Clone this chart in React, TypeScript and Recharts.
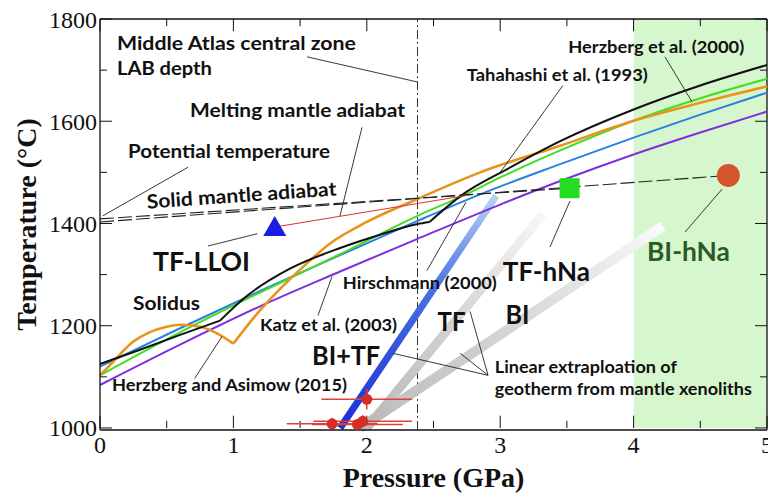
import React from 'react';
import {
  ComposedChart,
  Line,
  Area,
  XAxis,
  YAxis,
  ReferenceLine,
  ReferenceDot,
  Scatter,
  ErrorBar,
} from 'recharts';

// ---------- axes ----------
const xMajorTicks = [0, 1, 2, 3, 4, 5];
const xMinorTicks = [0.5, 1.5, 2.5, 3.5, 4.5];
const yMajorTicks = [1000, 1200, 1400, 1600, 1800];
const yMinorTicks = [1100, 1300, 1500, 1700];

// ---------- solidus curves (P GPa, T °C) ----------
const takahashi1993A = [
  { p: 0, t: 1125 }, { p: 0.3, t: 1153 }, { p: 0.6, t: 1182 }, { p: 0.9, t: 1210 },
];
const takahashi1993B = [
  { p: 0.9, t: 1210 }, { p: 1.1, t: 1258 }, { p: 1.42, t: 1311 }, { p: 1.8, t: 1352 },
  { p: 2.1, t: 1378 }, { p: 2.38, t: 1399 }, { p: 2.47, t: 1403 },
];
const takahashi1993C = [
  { p: 2.47, t: 1403 }, { p: 2.72, t: 1457 }, { p: 3.05, t: 1506 }, { p: 3.45, t: 1561 },
  { p: 4.0, t: 1623 }, { p: 4.5, t: 1670 }, { p: 5, t: 1710 },
];
const herzbergAsimow2015A = [
  { p: 0, t: 1103 }, { p: 0.075, t: 1123 }, { p: 0.25, t: 1169 }, { p: 0.37, t: 1187 },
  { p: 0.5, t: 1198 }, { p: 0.6, t: 1202 }, { p: 0.75, t: 1198 }, { p: 0.87, t: 1186 },
  { p: 1.0, t: 1165 },
];
const herzbergAsimow2015B = [
  { p: 1.0, t: 1165 }, { p: 1.15, t: 1215 }, { p: 1.35, t: 1272 }, { p: 1.55, t: 1322 },
  { p: 1.72, t: 1360 }, { p: 2.0, t: 1403 }, { p: 2.38, t: 1448 }, { p: 2.85, t: 1500 },
  { p: 3.45, t: 1552 }, { p: 4.0, t: 1601 }, { p: 4.5, t: 1636 }, { p: 5, t: 1668 },
];
const herzberg2000 = [
  { p: 0, t: 1103 }, { p: 0.6, t: 1187 }, { p: 1.2, t: 1265 }, { p: 1.8, t: 1340 },
  { p: 2.38, t: 1415 }, { p: 2.72, t: 1454 }, { p: 3.0, t: 1490 }, { p: 3.45, t: 1543 },
  { p: 4.0, t: 1601 }, { p: 4.5, t: 1645 }, { p: 5, t: 1683 },
];
const katz2003 = [
  { p: 0, t: 1120 }, { p: 0.6, t: 1195 }, { p: 1.2, t: 1268 }, { p: 1.8, t: 1338 },
  { p: 2.38, t: 1405 }, { p: 2.85, t: 1457 }, { p: 3.45, t: 1516 }, { p: 4.0, t: 1568 },
  { p: 4.5, t: 1613 }, { p: 5, t: 1656 },
];
const hirschmann2000 = [
  { p: 0, t: 1084 }, { p: 0.6, t: 1163 }, { p: 1.2, t: 1238 }, { p: 1.8, t: 1306 },
  { p: 2.38, t: 1370 }, { p: 3.0, t: 1437 }, { p: 3.45, t: 1483 }, { p: 4.0, t: 1535 },
  { p: 4.5, t: 1578 }, { p: 5, t: 1619 },
];

// ---------- adiabats ----------
const solidAdiabatA = [{ p: 0, t: 1403 }, { p: 4.71, t: 1494 }];
const solidAdiabatB = [{ p: 0, t: 1409 }, { p: 3.52, t: 1469 }];
const meltingAdiabat = [{ p: 1.31, t: 1393 }, { p: 2.75, t: 1455 }];

// ---------- xenolith geotherm extrapolations ----------
const bitfGeotherm = [{ p: 1.8, t: 1000 }, { p: 2.97, t: 1454 }];
const tfGeotherm = [{ p: 2.0, t: 1000 }, { p: 3.32, t: 1418 }];
const biGeotherm = [{ p: 1.95, t: 1000 }, { p: 4.22, t: 1395 }];

// ---------- xenolith P-T estimates ----------
const xenoliths = [
  { p: 1.74, t: 1008, ex: 0.34, ey: 12 },
  { p: 1.93, t: 1007, ex: 0.34, ey: 10 },
  { p: 1.97, t: 1013, ex: 0.37, ey: 12 },
  { p: 2.0, t: 1056, ex: 0.34, ey: 20 },
];

// ---------- primary magma estimates ----------
const tfLLOI = { p: 1.31, t: 1393 };
const tfHNa = { p: 3.52, t: 1469 };
const biHNa = { p: 4.71, t: 1494 };

// ---------- regions / reference ----------
const labDepthP = 2.38;
const hNaRegion = [{ p: 4, t: 1800 }, { p: 5, t: 1800 }];

// ---------- annotations ----------
type Ann = { text: string; p: number; t: number; size: number; len: number; color?: string; rotate?: number; anchor?: string };
const annotations: Ann[] = [
  { text: 'Middle Atlas central zone', p: 0.127, t: 1740, size: 19.5, len: 239 },
  { text: 'LAB depth', p: 0.127, t: 1691, size: 19.5, len: 95 },
  { text: 'Melting mantle adiabat', p: 0.675, t: 1609, size: 19.5, len: 215 },
  { text: 'Potential temperature', p: 0.21, t: 1529, size: 19.5, len: 202 },
  { text: 'Solid mantle adiabat', p: 1.064, t: 1442, size: 19.5, len: 190, rotate: -4, anchor: 'middle' },
  { text: 'TF-LLOI', p: 0.397, t: 1308, size: 26.5, len: 97 },
  { text: 'Solidus', p: 0.247, t: 1230, size: 19.5, len: 67 },
  { text: 'Herzberg and Asimow (2015)', p: 0.09, t: 1072, size: 17.5, len: 235 },
  { text: 'Katz et al. (2003)', p: 1.2, t: 1189, size: 17.5, len: 137 },
  { text: 'Hirschmann (2000)', p: 1.82, t: 1272, size: 17.5, len: 154 },
  { text: 'BI+TF', p: 1.59, t: 1123, size: 26.5, len: 68 },
  { text: 'TF', p: 2.53, t: 1189, size: 26.5, len: 28 },
  { text: 'TF-hNa', p: 3.02, t: 1288, size: 26.5, len: 87 },
  { text: 'BI', p: 3.04, t: 1204, size: 26.5, len: 24 },
  { text: 'BI-hNa', p: 4.1, t: 1327, size: 26.5, len: 83, color: '#2b5a25' },
  { text: 'Linear extraploation of', p: 2.96, t: 1107, size: 17.5, len: 182 },
  { text: 'geotherm from mantle xenoliths', p: 2.96, t: 1064, size: 17.5, len: 257 },
  { text: 'Herzberg et al. (2000)', p: 3.51, t: 1734, size: 17.5, len: 176 },
  { text: 'Tahahashi et al. (1993)', p: 2.75, t: 1679, size: 17.5, len: 181 },
];

const leaders = [
  [1.552, 1726, 2.376, 1677],
  [1.964, 1588, 1.799, 1415],
  [0.66, 1510, 0.022, 1415],
  [0.81, 1356, 1.18, 1380],
  [0.71, 1097, 0.915, 1179],
  [1.634, 1220, 1.739, 1296],
  [2.451, 1308, 2.744, 1442],
  [3.47, 1670, 3.0, 1500],
  [4.235, 1726, 4.438, 1638],
  [3.523, 1444, 3.373, 1354],
  [4.663, 1467, 4.385, 1383],
  [2.909, 1103, 2.196, 1146],
  [2.909, 1103, 2.7, 1146],
  [2.909, 1103, 2.774, 1228],
];

const SANS = 'Lato, "Open Sans", sans-serif';
const SERIF = '"Liberation Serif", "DejaVu Serif", serif';

const XTitle = (props: any) => {
  const vb = props.viewBox || { x: 100, y: 430, width: 667, height: 64 };
  const cx = vb.x + vb.width / 2;
  return (
    <text x={cx} y={vb.y + 57} textAnchor="middle" fontFamily={SERIF} fontWeight={700} fontSize={28} fill="#111">
      Pressure (GPa)
    </text>
  );
};
const YTitle = (props: any) => {
  const vb = props.viewBox || { x: 0, y: 19, width: 100, height: 411 };
  const cx = vb.x + 36;
  const cy = vb.y + vb.height / 2;
  return (
    <text x={cx} y={cy} transform={`rotate(-90 ${cx} ${cy})`} textAnchor="middle" fontFamily={SERIF} fontWeight={700} fontSize={28} fill="#111">
      Temperature (°C)
    </text>
  );
};

const textShape = (a: Ann) => (props: any) => (
  <text
    x={props.cx}
    y={props.cy}
    fontFamily={SANS}
    fontWeight={700}
    fontSize={a.size}
    fill={a.color || '#111'}
    textAnchor={a.anchor || 'start'}
    textLength={a.len}
    lengthAdjust="spacingAndGlyphs"
    transform={a.rotate ? `rotate(${a.rotate} ${props.cx} ${props.cy})` : undefined}
  >
    {a.text}
  </text>
);

const triangleShape = (props: any) => (
  <polygon
    points={`${props.cx},${props.cy - 11} ${props.cx - 11.5},${props.cy + 9} ${props.cx + 11.5},${props.cy + 9}`}
    fill="#1c1ce0"
  />
);
const squareShape = (props: any) => (
  <rect x={props.cx - 10} y={props.cy - 10} width={20} height={20} fill="#22dd22" />
);
const circleShape = (props: any) => <circle cx={props.cx} cy={props.cy} r={11.5} fill="#d4542c" />;
const pointShape = (props: any) => <circle cx={props.cx} cy={props.cy} r={5.5} fill="#d42e2a" />;

const TICK_T_MAJOR = 24;
const TICK_T_MINOR = 14;
const TICK_P_MAJOR = 0.09;
const TICK_P_MINOR = 0.052;

export default function App() {
  const xTicksAll = [
    ...xMajorTicks.map((v) => ({ v, len: TICK_T_MAJOR })),
    ...xMinorTicks.map((v) => ({ v, len: TICK_T_MINOR })),
  ];
  const yTicksAll = [
    ...yMajorTicks.map((v) => ({ v, len: TICK_P_MAJOR })),
    ...yMinorTicks.map((v) => ({ v, len: TICK_P_MINOR })),
  ];
  const curve = (data: any[], color: string, width: number, type: any = 'monotone', key?: string) => (
    <Line
      key={key}
      data={data}
      dataKey="t"
      type={type}
      stroke={color}
      strokeWidth={width}
      dot={false}
      activeDot={false}
      isAnimationActive={false}
    />
  );
  return (
    <div style={{ position: 'absolute', left: 0, top: 0, width: 768, height: 494, background: '#fff' }}>
      <ComposedChart width={768} height={494} margin={{ top: 19, right: 1, bottom: 0, left: 0 }}>
        <defs>
          <linearGradient id="gBlue" x1="0" y1="1" x2="0" y2="0">
            <stop offset="0%" stopColor="#1a2ed8" />
            <stop offset="60%" stopColor="#4a70e2" />
            <stop offset="100%" stopColor="#b6d4f5" />
          </linearGradient>
          <linearGradient id="gGrayTF" x1="0" y1="1" x2="1" y2="0">
            <stop offset="0%" stopColor="#bababa" />
            <stop offset="45%" stopColor="#d0d0d0" />
            <stop offset="100%" stopColor="#f7f7f7" />
          </linearGradient>
          <linearGradient id="gGrayBI" x1="0" y1="1" x2="1" y2="0">
            <stop offset="0%" stopColor="#bcbcbc" />
            <stop offset="35%" stopColor="#cccccc" />
            <stop offset="75%" stopColor="#e6e6e6" />
            <stop offset="100%" stopColor="#fafafa" />
          </linearGradient>
        </defs>
        <XAxis
          dataKey="p"
          type="number"
          domain={[0, 5]}
          ticks={xMajorTicks}
          interval={0}
          tickLine={false}
          tickSize={0}
          tickMargin={6}
          height={64}
          axisLine={{ stroke: '#111', strokeWidth: 1.3 }}
          tick={{ fontFamily: SERIF, fontSize: 24, fill: '#111' }}
          label={<XTitle />}
        />
        <YAxis
          dataKey="t"
          type="number"
          domain={[1000, 1800]}
          ticks={yMajorTicks}
          interval={0}
          tickLine={false}
          tickSize={0}
          tickMargin={3}
          width={100}
          axisLine={{ stroke: '#111', strokeWidth: 1.3 }}
          tick={{ fontFamily: SERIF, fontSize: 24, fill: '#111' }}
          label={<YTitle />}
        />
        <Area
          data={hNaRegion}
          dataKey="t"
          type="linear"
          baseValue={1000}
          fill="#d6f7cd"
          fillOpacity={1}
          stroke="none"
          dot={false}
          activeDot={false}
          isAnimationActive={false}
        />
        <ReferenceLine x={labDepthP} stroke="#333" strokeWidth={1} strokeDasharray="9 3 2 3" />
        <ReferenceLine y={1800} stroke="#111" strokeWidth={1.3} />
        <ReferenceLine x={5} stroke="#111" strokeWidth={1.3} />
        {xTicksAll.map((k, i) => (
          <ReferenceLine key={'xb' + i} segment={[{ x: k.v, y: 1000 }, { x: k.v, y: 1000 + k.len }]} stroke="#111" strokeWidth={1} />
        ))}
        {xTicksAll.map((k, i) => (
          <ReferenceLine key={'xt' + i} segment={[{ x: k.v, y: 1800 }, { x: k.v, y: 1800 - k.len }]} stroke="#111" strokeWidth={1} />
        ))}
        {yTicksAll.map((k, i) => (
          <ReferenceLine key={'yl' + i} segment={[{ x: 0, y: k.v }, { x: k.len, y: k.v }]} stroke="#111" strokeWidth={1} />
        ))}
        {yTicksAll.map((k, i) => (
          <ReferenceLine key={'yr' + i} segment={[{ x: 5, y: k.v }, { x: 5 - k.len, y: k.v }]} stroke="#111" strokeWidth={1} />
        ))}
        {curve(biGeotherm, 'url(#gGrayBI)', 10, 'linear', 'bi')}
        {curve(tfGeotherm, 'url(#gGrayTF)', 9, 'linear', 'tf')}
        {curve(bitfGeotherm, 'url(#gBlue)', 7, 'linear', 'bitf')}
        {curve(hirschmann2000, '#7f2fe0', 2, 'monotone', 'h00')}
        {curve(katz2003, '#2a80e0', 2, 'monotone', 'k03')}
        {curve(herzberg2000, '#44dd22', 2, 'monotone', 'hz00')}
        {curve(herzbergAsimow2015A, '#e8941c', 2.6, 'monotone', 'ha1')}
        {curve(herzbergAsimow2015B, '#e8941c', 2.6, 'monotone', 'ha2')}
        {curve(takahashi1993A, '#111', 2, 'linear', 't1')}
        {curve(takahashi1993B, '#111', 2, 'monotone', 't2')}
        {curve(takahashi1993C, '#111', 2, 'monotone', 't3')}
        <Line data={solidAdiabatA} dataKey="t" type="linear" stroke="#222" strokeWidth={1.1} strokeDasharray="14 4" dot={false} activeDot={false} isAnimationActive={false} />
        <Line data={solidAdiabatB} dataKey="t" type="linear" stroke="#222" strokeWidth={1.1} strokeDasharray="14 4" dot={false} activeDot={false} isAnimationActive={false} />
        <Line data={meltingAdiabat} dataKey="t" type="linear" stroke="#e03030" strokeWidth={1} dot={false} activeDot={false} isAnimationActive={false} />
        <Scatter data={xenoliths} dataKey="t" shape={pointShape} isAnimationActive={false}>
          <ErrorBar dataKey="ex" direction="x" width={0} stroke="#e0403a" strokeWidth={1.5} />
          <ErrorBar dataKey="ey" direction="y" width={0} stroke="#e0403a" strokeWidth={1.5} />
        </Scatter>
        {leaders.map((l, i) => (
          <ReferenceLine key={'ld' + i} segment={[{ x: l[0], y: l[1] }, { x: l[2], y: l[3] }]} stroke="#222" strokeWidth={0.9} />
        ))}
        <ReferenceDot x={tfLLOI.p} y={tfLLOI.t} r={11} shape={triangleShape} />
        <ReferenceDot x={tfHNa.p} y={tfHNa.t} r={10} shape={squareShape} />
        <ReferenceDot x={biHNa.p} y={biHNa.t} r={11.5} shape={circleShape} />
        {annotations.map((a, i) => (
          <ReferenceDot key={'an' + i} x={a.p} y={a.t} r={0} shape={textShape(a)} />
        ))}
      </ComposedChart>
    </div>
  );
}
